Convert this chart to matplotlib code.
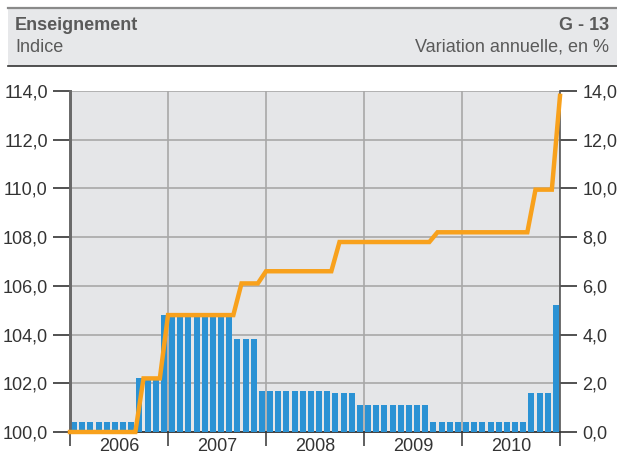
import matplotlib
matplotlib.use("Agg")
import matplotlib.pyplot as plt
from matplotlib.patches import Rectangle
from matplotlib.lines import Line2D
from matplotlib.ticker import FixedLocator, FuncFormatter
import numpy as np

plt.rcParams['font.family'] = ['Liberation Sans', 'DejaVu Sans']

years = ["2006", "2007", "2008", "2009", "2010"]

# Annual variation in % (bars), monthly Jan 2006 .. Dec 2010
variation = ([0.4] * 8 + [2.2] * 3 + [4.8] +
             [4.8] * 8 + [3.8] * 3 + [1.7] +
             [1.7] * 8 + [1.6] * 3 + [1.1] +
             [1.1] * 8 + [0.4] * 4 +
             [0.4] * 8 + [1.6] * 3 + [5.2])

# Index (line), Dec 2005 = 100, then monthly Jan 2006 .. Dec 2010
index = ([100.0] +
         [100.0] * 8 + [102.2] * 3 + [104.8] +
         [104.8] * 8 + [106.1] * 3 + [106.6] +
         [106.6] * 8 + [107.8] * 4 +
         [107.8] * 8 + [108.2] * 4 +
         [108.2] * 8 + [109.95] * 3 + [113.8])

W, H = 617, 459
fig = plt.figure(figsize=(W / 100, H / 100), dpi=100)

# header
fig.patches.append(Rectangle((8 / W, 1 - 66 / H), 1 - 8 / W, 58 / H,
                             transform=fig.transFigure, facecolor="#e7e8ea",
                             edgecolor="none", zorder=0))
fig.lines.append(Line2D([8 / W, 1], [1 - 8 / H, 1 - 8 / H],
                        transform=fig.transFigure, color="#8a8a8a", lw=1.6))
fig.lines.append(Line2D([8 / W, 1], [1 - 66 / H, 1 - 66 / H],
                        transform=fig.transFigure, color="#333333", lw=1.2))
hc = "#5a5a5a"
fig.text(15 / W, 1 - 25 / H, "Enseignement", fontsize=13, fontweight="bold",
         color=hc, ha="left", va="center")
fig.text(609 / W, 1 - 25 / H, "G - 13", fontsize=13, fontweight="bold",
         color=hc, ha="right", va="center")
fig.text(15 / W, 1 - 47.5 / H, "Indice", fontsize=13, color=hc,
         ha="left", va="center")
fig.text(609 / W, 1 - 47.5 / H, "Variation annuelle, en %", fontsize=13,
         color=hc, ha="right", va="center")

left, right, top, bottom = 70, 560, 91, 432
ax = fig.add_axes([left / W, 1 - bottom / H, (right - left) / W, (bottom - top) / H])
ax.set_facecolor("#e5e6e8")

n = len(variation)
xb = np.arange(n) + 0.5
ax.bar(xb, variation, width=0.72, color="#2b92d4", zorder=3)
ax.set_xlim(0, n)
ax.set_ylim(0, 14)

fmt = FuncFormatter(lambda v, p: f"{v:.1f}".replace(".", ","))

# x axis
ax.xaxis.set_major_locator(FixedLocator(np.arange(0, n + 1, 12)))
ax.xaxis.set_minor_locator(FixedLocator(np.arange(6, n, 12)))
ax.set_xticklabels([])
ax.set_xticklabels(years, minor=True)
ax.tick_params(axis="x", which="major", length=10, width=1.2, color="#444444")
ax.tick_params(axis="x", which="minor", length=0, pad=4, labelsize=13,
               labelcolor="#333333")

ax.grid(True, which="major", color="#a8a8a8", lw=1.2, zorder=1)
ax.set_axisbelow(True)

ax.spines["top"].set_visible(False)
ax.spines["bottom"].set_color("#333333")
ax.spines["bottom"].set_linewidth(1.3)
ax.spines["right"].set_color("#555555")
ax.spines["right"].set_linewidth(1.2)
ax.spines["left"].set_color("#6a6a6a")
ax.spines["left"].set_linewidth(2.0)

# left axis (line)
ax2 = ax.twinx()

# right axis (bars) ticks -- set after twinx, which resets them
ax.yaxis.tick_right()
ax.yaxis.set_label_position("right")
ax.set_yticks(np.arange(0, 15, 2))
ax.yaxis.set_major_formatter(fmt)
ax.tick_params(axis="y", which="major", length=12, width=1.2, color="#333333",
               labelsize=13, labelcolor="#333333", pad=4)

ax2.yaxis.tick_left()
ax2.yaxis.set_label_position("left")
xl = np.arange(len(index))
ax2.plot(xl, index, color="#f8a11c", lw=3.2, solid_joinstyle="miter",
         zorder=5, clip_on=False)
ax2.set_ylim(100, 114)
ax2.set_xlim(0, n)
ax2.set_yticks(np.arange(100, 115, 2))
ax2.yaxis.set_major_formatter(fmt)
ax2.tick_params(axis="y", which="major", length=12, width=1.2, color="#333333",
                labelsize=13, labelcolor="#333333", pad=4)
for s in ["top", "right", "bottom"]:
    ax2.spines[s].set_visible(False)
ax2.spines["left"].set_color("#6a6a6a")
ax2.spines["left"].set_linewidth(2.0)

fig.savefig("out.png", dpi=100)
